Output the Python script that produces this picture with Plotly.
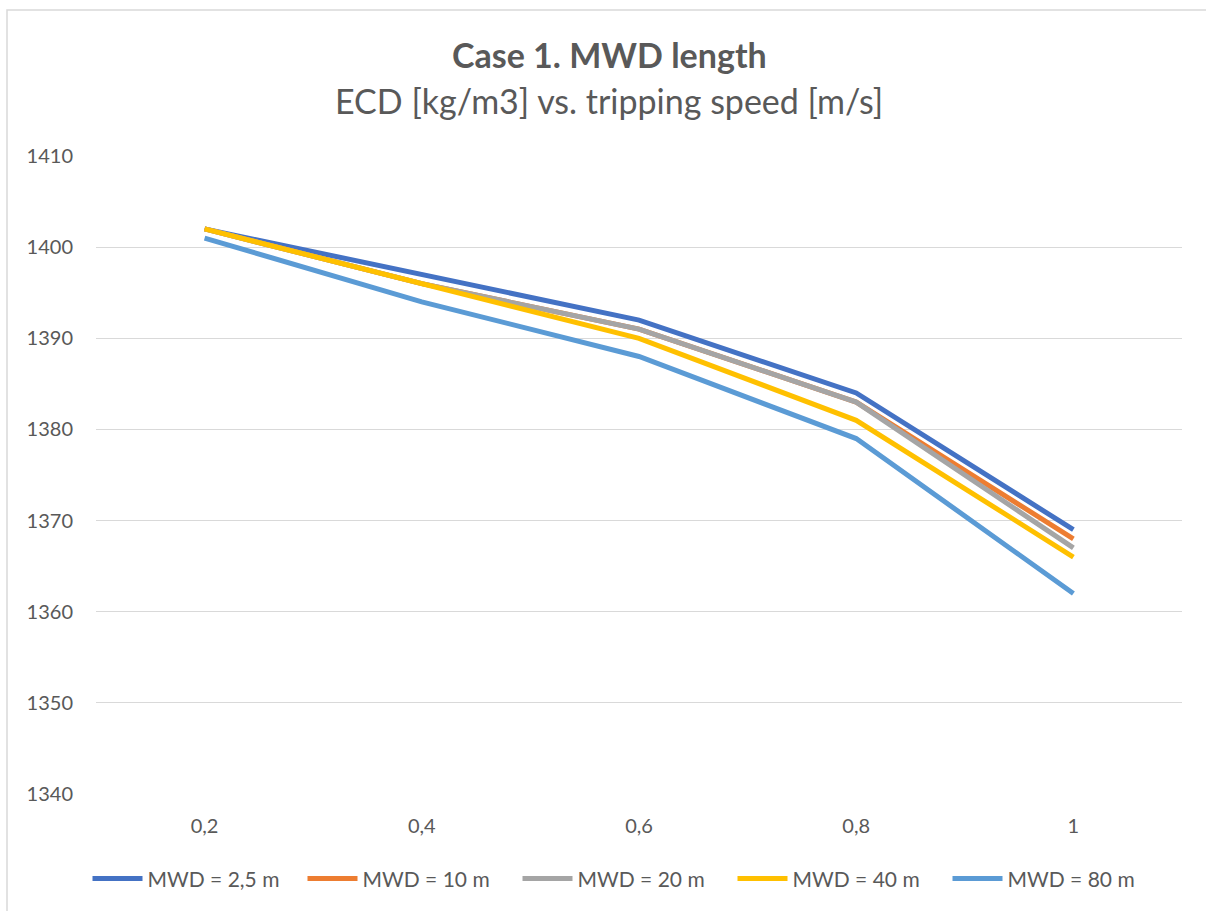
import plotly.graph_objects as go

# Tripping speed categories [m/s]
speeds = ["0,2", "0,4", "0,6", "0,8", "1"]

# ECD [kg/m3] for each MWD length
ecd_2_5 = [1402, 1397, 1392, 1384, 1369]
ecd_10 = [1402, 1396, 1391, 1383, 1368]
ecd_20 = [1402, 1396, 1391, 1383, 1367]
ecd_40 = [1402, 1396, 1390, 1381, 1366]
ecd_80 = [1401, 1394, 1388, 1379, 1362]

series_names = ["MWD = 2,5 m", "MWD = 10 m", "MWD = 20 m", "MWD = 40 m", "MWD = 80 m"]
series_values = [ecd_2_5, ecd_10, ecd_20, ecd_40, ecd_80]
series_colors = ["#4472C4", "#ED7D31", "#A5A5A5", "#FFC000", "#5B9BD5"]

y_ticks = [1340, 1350, 1360, 1370, 1380, 1390, 1400, 1410]

FONT = "Lato"
TEXT = "#595959"

fig = go.Figure()
for name, vals, color in zip(series_names, series_values, series_colors):
    fig.add_trace(go.Scatter(
        x=speeds, y=vals, name=name, mode="lines",
        line=dict(color=color, width=5),
    ))

# centre of the whole chart frame, expressed in plot-area paper units
title_x = (609 - 96) / 1086

fig.update_layout(
    width=1206, height=911,
    margin=dict(l=96, r=24, t=156, b=117, autoexpand=False),
    paper_bgcolor="white", plot_bgcolor="white",
    font=dict(family=FONT, color=TEXT, size=19),
    showlegend=True,
    legend=dict(
        orientation="h", xref="container", x=625 / 1206, xanchor="center",
        y=-0.133, yanchor="middle",
        font=dict(family=FONT, size=21, color=TEXT),
        itemwidth=50, tracegroupgap=0, entrywidth=150,
    ),
    xaxis=dict(
        type="category", range=[-0.5, 4.5],
        showgrid=False, zeroline=False, showline=False,
        ticks="", ticklabelstandoff=18,
        tickfont=dict(size=20, color=TEXT),
    ),
    yaxis=dict(
        range=[1340, 1410], tickvals=y_ticks,
        showgrid=True, gridcolor="#D9D9D9", gridwidth=1,
        zeroline=False, showline=False, ticks="",
        ticklabelstandoff=22,
        tickfont=dict(size=20, color=TEXT),
    ),
    annotations=[
        dict(text="<b>Case 1. MWD length</b>", xref="paper", yref="paper",
             x=title_x, y=(794 - 55) / 638, xanchor="center", yanchor="middle",
             showarrow=False, font=dict(family=FONT, size=34, color=TEXT)),
        dict(text="ECD [kg/m3] vs. tripping speed [m/s]", xref="paper", yref="paper",
             x=title_x, y=(794 - 101) / 638, xanchor="center", yanchor="middle",
             showarrow=False, font=dict(family=FONT, size=34, color=TEXT)),
    ],
    shapes=[
        dict(type="rect", xref="paper", yref="paper",
             x0=(7 - 96) / 1086, x1=1.2, y0=-0.5, y1=(794 - 10) / 638,
             line=dict(color="#D9D9D9", width=1.5), fillcolor="rgba(0,0,0,0)",
             layer="below"),
    ],
)

fig.write_html("out.html")
